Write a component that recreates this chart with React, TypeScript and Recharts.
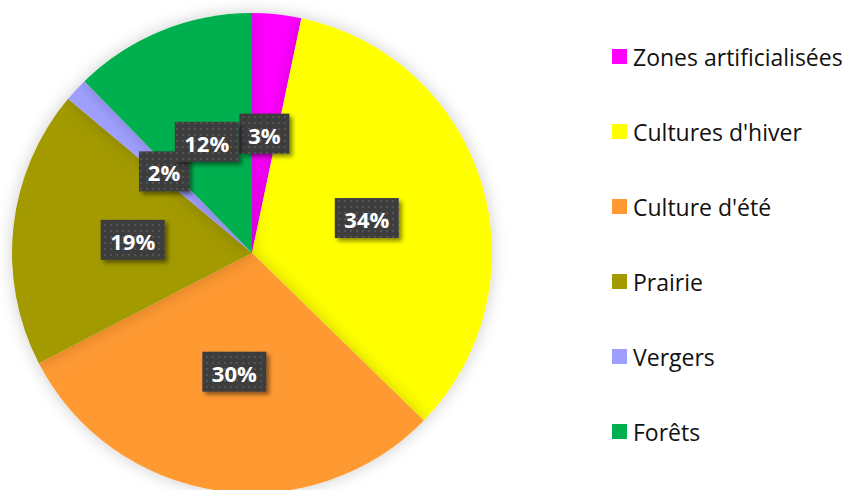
import { PieChart, Pie, Cell, Legend } from "recharts";

const categories = [
    "Zones artificialisées",
    "Cultures d'hiver",
    "Culture d'été",
    "Prairie",
    "Vergers",
    "Forêts",
];
const shares = [3.3, 34, 30.1, 18.7, 1.6, 12.3];
const colors = ["#ff00ff", "#ffff00", "#ff9933", "#a39a00", "#9f9fff", "#00b050"];

const data = categories.map((name, i) => ({ name, value: shares[i] }));

const RADIAN = Math.PI / 180;

// dark patterned box like the Excel data labels
function DataLabel(props: any) {
    const { cx, cy, midAngle, outerRadius, percent } = props;
    const r = outerRadius * 0.5;
    const x = cx + r * Math.cos(-midAngle * RADIAN);
    const y = cy + r * Math.sin(-midAngle * RADIAN);
    const text = `${Math.round(percent * 100)}%`;
    const w = 22 + text.length * 14;
    const h = 40;
    return (
        <g>
            <rect x={x - w / 2} y={y - h / 2} width={w} height={h} fill="url(#dots)" filter="url(#boxShadow)" />
            <text
                x={x}
                y={y + 1}
                fill="#ffffff"
                textAnchor="middle"
                dominantBaseline="central"
                fontFamily="'Open Sans', Lato, sans-serif"
                fontWeight={700}
                fontSize={22}
            >
                {text}
            </text>
        </g>
    );
}

function LegendList() {
    return (
        <div style={{ fontFamily: "'Open Sans', Lato, sans-serif", fontSize: 23, color: "#111" }}>
            {categories.map((c, i) => (
                <div key={c} style={{ display: "flex", alignItems: "center", height: 75, whiteSpace: "nowrap" }}>
                    <span style={{ width: 15, height: 15, background: colors[i], display: "inline-block", marginRight: 6, flexShrink: 0 }} />
                    <span>{c}</span>
                </div>
            ))}
        </div>
    );
}

export default function App() {
    return (
        <div style={{ position: "fixed", left: 0, top: 0, width: 846, height: 490, background: "#fff", overflow: "hidden" }}>
            <PieChart width={846} height={490}>
                <defs>
                    <pattern id="dots" width="6" height="6" patternUnits="userSpaceOnUse">
                        <rect width="6" height="6" fill="#3d3d3d" />
                        <circle cx="3" cy="3" r="1" fill="#5a5a5a" />
                    </pattern>
                    <filter id="boxShadow" x="-30%" y="-30%" width="170%" height="170%">
                        <feDropShadow dx="3" dy="3" stdDeviation="2" floodColor="#000" floodOpacity="0.45" />
                    </filter>
                    <filter id="pieShadow" x="-20%" y="-20%" width="140%" height="140%">
                        <feDropShadow dx="0" dy="0" stdDeviation="8" floodColor="#000" floodOpacity="0.2" />
                    </filter>
                </defs>
                <Pie
                    data={data}
                    dataKey="value"
                    nameKey="name"
                    cx={247}
                    cy={248}
                    outerRadius={240}
                    startAngle={90}
                    endAngle={-270}
                    stroke="none"
                    labelLine={false}
                    label={DataLabel}
                    isAnimationActive={false}
                    style={{ filter: "url(#pieShadow)" }}
                >
                    {data.map((d, i) => (
                        <Cell key={d.name} fill={colors[i]} />
                    ))}
                </Pie>
                <Legend
                    layout="vertical"
                    content={() => <LegendList />}
                    wrapperStyle={{ position: "absolute", left: 612, top: 19, width: 234 }}
                />
            </PieChart>
        </div>
    );
}
